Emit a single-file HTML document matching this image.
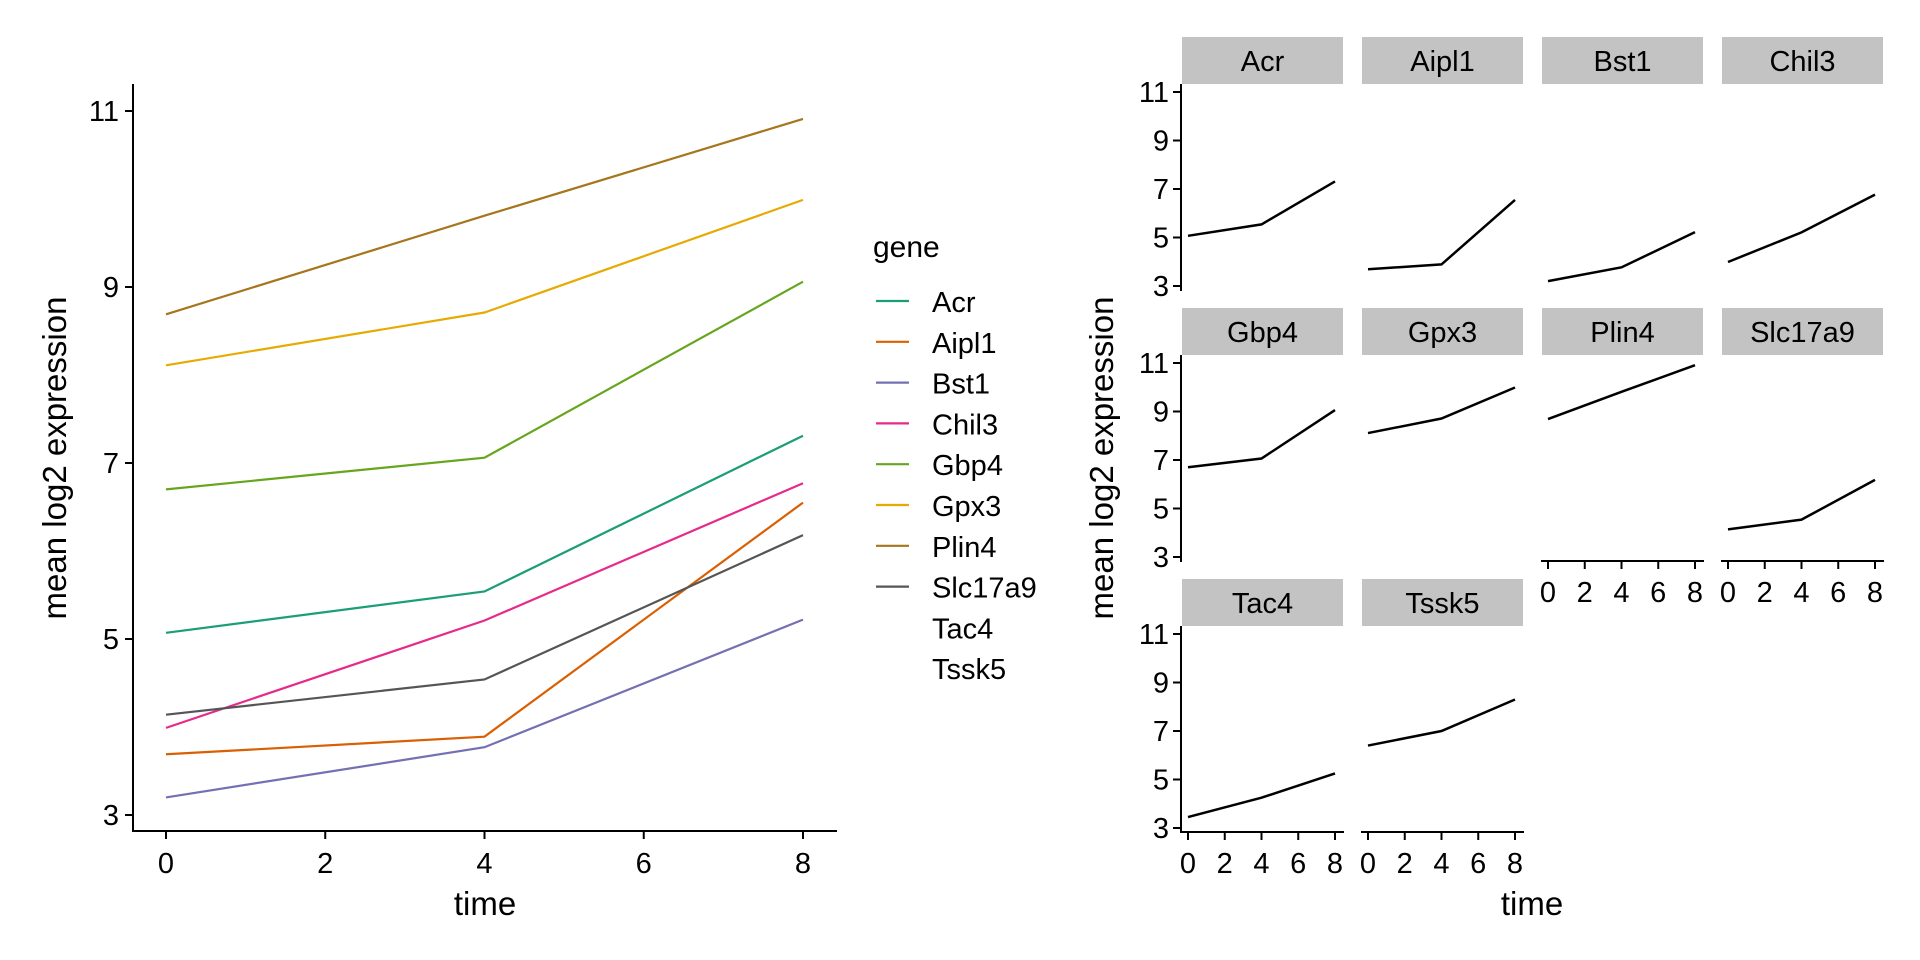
<!DOCTYPE html>
<html><head><meta charset="utf-8"><style>
html,body{margin:0;padding:0;background:#fff;}
svg{display:block;font-family:"Liberation Sans",Arial,sans-serif;}
</style></head><body>
<svg id="c" width="1920" height="960" viewBox="0 0 1920 960" xmlns="http://www.w3.org/2000/svg"></svg>
<script>
const genes = ["Acr","Aipl1","Bst1","Chil3","Gbp4","Gpx3","Plin4","Slc17a9","Tac4","Tssk5"];
const times = [0,4,8];
const acr = [5.07,5.54,7.31];
const aipl1 = [3.69,3.89,6.55];
const bst1 = [3.20,3.77,5.22];
const chil3 = [3.99,5.21,6.77];
const gbp4 = [6.70,7.06,9.06];
const gpx3 = [8.11,8.71,9.99];
const plin4 = [8.69,9.81,10.91];
const slc17a9 = [4.14,4.54,6.18];
const tac4 = [3.45,4.25,5.25];
const tssk5 = [6.40,7.00,8.30];
const colors = ["#1B9E77","#D95F02","#7570B3","#E7298A","#66A61E","#E6AB02","#A6761D","#555555"];
const yTicks = [3,5,7,9,11];
const xTicksLeft = [0,2,4,6,8];
const xTicksFacet = [0,2,4,6,8];
const leftGenesShown = 8;

const series = [acr,aipl1,bst1,chil3,gbp4,gpx3,plin4,slc17a9,tac4,tssk5];
const svg = document.getElementById('c');
const NS = "http://www.w3.org/2000/svg";
function mk(tag, attrs, parent){const e=document.createElementNS(NS,tag);for(const k in attrs)e.setAttribute(k,attrs[k]);(parent||svg).appendChild(e);return e;}
function txt(s, attrs, parent){const e=mk('text',attrs,parent);e.textContent=s;return e;}

// ---------- Left panel ----------
const lx = t => 166 + t*79.625;
const ly = v => 111 + (11 - v)*88;
const left = mk('g',{});


series.slice(0,leftGenesShown).forEach((s,i)=>{
  const pts = s.map((v,j)=>lx(times[j])+','+ly(v)).join(' ');
  const p = mk('polyline',{points:pts,fill:'none',stroke:colors[i],'stroke-width':2.2},left);
  
  
});
const lax = mk('line',{x1:133,y1:831,x2:837,y2:831,stroke:'#000','stroke-width':2},left);


const lay = mk('line',{x1:133,y1:84,x2:133,y2:832,stroke:'#000','stroke-width':2},left);


yTicks.forEach(v=>{
  mk('line',{x1:125,y1:ly(v),x2:133,y2:ly(v),stroke:'#000','stroke-width':2},left);
  const t=txt(String(v),{x:119,y:ly(v)+10,'text-anchor':'end','font-size':29,fill:'#000'},left);
  
  
});
xTicksLeft.forEach(v=>{
  mk('line',{x1:lx(v),y1:831,x2:lx(v),y2:839,stroke:'#000','stroke-width':2},left);
  const t=txt(String(v),{x:lx(v),y:873,'text-anchor':'middle','font-size':29,fill:'#000'},left);
  
  
});
const lxt = txt('time',{x:485,y:915,'text-anchor':'middle','font-size':33,fill:'#000'},left);


const lyt = txt('mean log2 expression',{x:0,y:0,'text-anchor':'middle','font-size':33,fill:'#000',transform:'translate(66,458) rotate(-90)'},left);



// ---------- Legend ----------
const leg = mk('g',{});


const lt = txt('gene',{x:873,y:257,'font-size':30,fill:'#000'},leg);


genes.forEach((g,i)=>{
  const yy = 301 + i*40.8;
  const en = mk('g',{},leg);
  
  
  if(i<leftGenesShown) mk('line',{x1:876,y1:yy,x2:909,y2:yy,stroke:colors[i],'stroke-width':2.2},en);
  txt(g,{x:932,y:yy+11,'font-size':29,fill:'#000'},en);
});

// ---------- Facets ----------
const facets = mk('g',{});


const colX = c => 1182 + c*180;
const rowTop = r => 37 + r*271;
genes.forEach((g,i)=>{
  const r = Math.floor(i/4), c = i%4;
  const x0 = colX(c), st = rowTop(r);
  const fy = v => st + 55 + (11 - v)*24.25;
  const fx = t => x0 + 6 + t*18.375;
  const fg = mk('g',{},facets);
  
  
  const sr = mk('rect',{x:x0,y:st,width:161,height:47,fill:'#C3C3C3'},fg);
  
  
  txt(g,{x:x0+80.5,y:st+34,'text-anchor':'middle','font-size':29,fill:'#000'},fg);
  const pts = series[i].map((v,j)=>fx(times[j])+','+fy(v)).join(' ');
  const pl = mk('polyline',{points:pts,fill:'none',stroke:'#000','stroke-width':2.5},fg);
  
  
  const bottom = st + 253; // panel bottom
  if(c===0){
    mk('line',{x1:x0-1,y1:st+47,x2:x0-1,y2:bottom+1,stroke:'#000','stroke-width':2},fg);
    yTicks.forEach(v=>{
      mk('line',{x1:x0-9,y1:fy(v),x2:x0-1,y2:fy(v),stroke:'#000','stroke-width':2},fg);
      txt(String(v),{x:x0-13,y:fy(v)+10,'text-anchor':'end','font-size':29,fill:'#000'},fg);
    });
  }
  const isBottom = (i + 4 >= genes.length);
  if(isBottom){
    mk('line',{x1:x0-1,y1:bottom,x2:x0+162,y2:bottom,stroke:'#000','stroke-width':2},fg);
    xTicksFacet.forEach(v=>{
      mk('line',{x1:fx(v),y1:bottom,x2:fx(v),y2:bottom+8,stroke:'#000','stroke-width':2},fg);
      txt(String(v),{x:fx(v),y:bottom+41,'text-anchor':'middle','font-size':29,fill:'#000'},fg);
    });
  }
});
const fxt = txt('time',{x:1532,y:915,'text-anchor':'middle','font-size':33,fill:'#000'},facets);


const fyt = txt('mean log2 expression',{x:0,y:0,'text-anchor':'middle','font-size':33,fill:'#000',transform:'translate(1113,458) rotate(-90)'},facets);


</script>
</body></html>
